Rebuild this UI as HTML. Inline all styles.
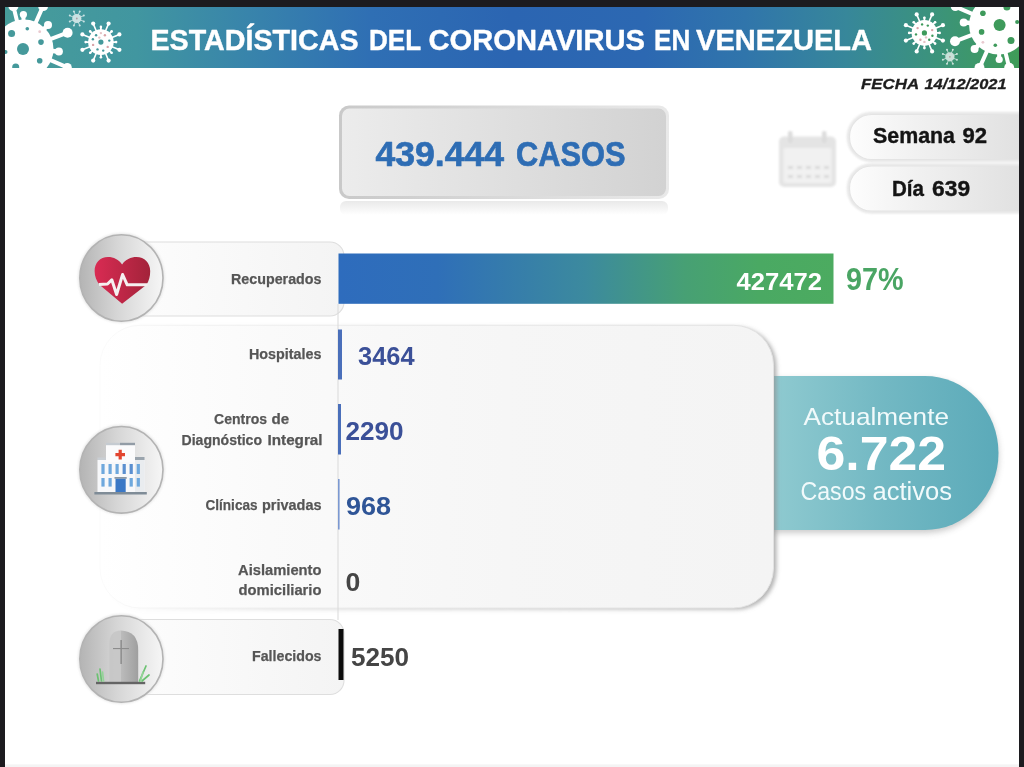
<!DOCTYPE html>
<html lang="es">
<head>
<meta charset="utf-8">
<title>Estadísticas del Coronavirus en Venezuela</title>
<style>
  html, body { margin: 0; padding: 0; background: #1c1b1f; }
  body { width: 1024px; height: 767px; overflow: hidden; position: relative; font-family: "Liberation Sans", sans-serif; }
  svg { position: absolute; left: 0; top: 0; display: block; }
  text { font-family: "Liberation Sans", sans-serif; }
  .b { font-weight: bold; }
</style>
</head>
<body>
<svg width="1024" height="767" viewBox="0 0 1024 767">
  <defs>
    <linearGradient id="gBanner" x1="0" y1="0" x2="1" y2="0">
      <stop offset="0" stop-color="#479c9a"/>
      <stop offset="0.13" stop-color="#4196a0"/>
      <stop offset="0.24" stop-color="#3884ab"/>
      <stop offset="0.36" stop-color="#2f6fb4"/>
      <stop offset="0.50" stop-color="#2b65b2"/>
      <stop offset="0.63" stop-color="#2c68b2"/>
      <stop offset="0.73" stop-color="#3075ab"/>
      <stop offset="0.83" stop-color="#37879a"/>
      <stop offset="0.91" stop-color="#3b927e"/>
      <stop offset="1" stop-color="#3f9c58"/>
    </linearGradient>
    <linearGradient id="gBar" x1="0" y1="0" x2="1" y2="0">
      <stop offset="0" stop-color="#2e6cbd"/>
      <stop offset="0.2" stop-color="#2f6fb8"/>
      <stop offset="0.5" stop-color="#3c8a9e"/>
      <stop offset="0.7" stop-color="#47a074"/>
      <stop offset="0.85" stop-color="#4aa963"/>
      <stop offset="1" stop-color="#4cab60"/>
    </linearGradient>
    <linearGradient id="gCasos" x1="0" y1="0" x2="1" y2="0">
      <stop offset="0" stop-color="#ececec"/>
      <stop offset="1" stop-color="#d2d2d2"/>
    </linearGradient>
    <linearGradient id="gPillR" x1="0" y1="0" x2="1" y2="0">
      <stop offset="0" stop-color="#fdfdfd"/>
      <stop offset="0.3" stop-color="#f1f1f1"/>
      <stop offset="1" stop-color="#d9d9d9"/>
    </linearGradient>
    <linearGradient id="gCircle" x1="0" y1="0" x2="1" y2="0">
      <stop offset="0" stop-color="#b4b4b4"/>
      <stop offset="0.45" stop-color="#d6d6d6"/>
      <stop offset="1" stop-color="#f6f6f6"/>
    </linearGradient>
    <linearGradient id="gPanel" x1="0" y1="0" x2="1" y2="0">
      <stop offset="0" stop-color="#ffffff"/>
      <stop offset="0.25" stop-color="#fafafa"/>
      <stop offset="0.6" stop-color="#f6f6f6"/>
      <stop offset="1" stop-color="#f4f4f4"/>
    </linearGradient>
    <linearGradient id="gTeal" x1="0" y1="0" x2="1" y2="0">
      <stop offset="0" stop-color="#8fcad0"/>
      <stop offset="0.5" stop-color="#72b8c3"/>
      <stop offset="1" stop-color="#5baab9"/>
    </linearGradient>
    <linearGradient id="gHeart" x1="0" y1="0" x2="1" y2="0">
      <stop offset="0" stop-color="#d92b53"/>
      <stop offset="1" stop-color="#a3233a"/>
    </linearGradient>
    <linearGradient id="gCasosB" x1="0" y1="0" x2="1" y2="0">
      <stop offset="0" stop-color="#c9c9c9"/>
      <stop offset="1" stop-color="#e9e9e9"/>
    </linearGradient>
    <linearGradient id="gRefl" x1="0" y1="0" x2="0" y2="1">
      <stop offset="0" stop-color="#e9e9e9"/>
      <stop offset="1" stop-color="#ffffff"/>
    </linearGradient>
    <linearGradient id="gShadow" x1="0" y1="0" x2="1" y2="0">
      <stop offset="0" stop-color="#9a9a9a" stop-opacity="0"/>
      <stop offset="0.25" stop-color="#9a9a9a" stop-opacity="0.3"/>
      <stop offset="1" stop-color="#909090" stop-opacity="0.7"/>
    </linearGradient>
    <linearGradient id="gPanelStroke" x1="0" y1="0" x2="1" y2="0">
      <stop offset="0" stop-color="#fbfbfb"/>
      <stop offset="0.1" stop-color="#f3f3f3"/>
      <stop offset="0.4" stop-color="#ebebeb"/>
      <stop offset="1" stop-color="#e2e2e2"/>
    </linearGradient>
    <linearGradient id="gLabel" x1="0" y1="0" x2="1" y2="0">
      <stop offset="0" stop-color="#fdfdfd"/>
      <stop offset="1" stop-color="#f4f4f4"/>
    </linearGradient>
    <linearGradient id="gTomb" x1="0" y1="0" x2="1" y2="0">
      <stop offset="0" stop-color="#bcbcbc"/>
      <stop offset="1" stop-color="#9f9f9f"/>
    </linearGradient>
    <filter id="blur1" x="-20%" y="-20%" width="140%" height="140%"><feGaussianBlur stdDeviation="1"/></filter>
    <filter id="blur2" x="-20%" y="-20%" width="140%" height="140%"><feGaussianBlur stdDeviation="2.3"/></filter>
    <filter id="blur3" x="-20%" y="-20%" width="140%" height="140%"><feGaussianBlur stdDeviation="3"/></filter>
    <clipPath id="clipBanner"><rect x="5" y="7" width="1014" height="61"/></clipPath>
    <clipPath id="clipPage"><rect x="5" y="7" width="1014" height="760"/></clipPath>
  </defs>

  <!-- page -->
  <rect x="5" y="7" width="1014" height="760" fill="#ffffff"/>
  <rect x="5" y="764.400" width="1014" height="2.600" fill="#f4f4f4"/>

  <!-- banner -->
  <rect x="5" y="7" width="1014" height="61" fill="url(#gBanner)"/>

  <!-- viruses -->
  <g clip-path="url(#clipBanner)">
    <g><circle cx="24" cy="49" r="29.5" fill="#fff"/><line x1="23.5" y1="21.5" x2="23.4" y2="14.5" stroke="#fff" stroke-width="4" stroke-linecap="round"/><circle cx="23.4" cy="14.5" r="3.6" fill="#fff"/><line x1="35.2" y1="23.9" x2="43.1" y2="6.1" stroke="#fff" stroke-width="4" stroke-linecap="round"/><circle cx="43.1" cy="6.1" r="5" fill="#fff"/><line x1="17.3" y1="22.3" x2="13.4" y2="6.3" stroke="#fff" stroke-width="4" stroke-linecap="round"/><circle cx="13.4" cy="6.3" r="5" fill="#fff"/><line x1="43.4" y1="29.6" x2="48.0" y2="25.0" stroke="#fff" stroke-width="4.5" stroke-linecap="round"/><circle cx="48.0" cy="25.0" r="4" fill="#fff"/><line x1="49.8" y1="39.4" x2="67.6" y2="32.7" stroke="#fff" stroke-width="4" stroke-linecap="round"/><circle cx="67.6" cy="32.7" r="5" fill="#fff"/><line x1="51.4" y1="50.9" x2="58.9" y2="51.4" stroke="#fff" stroke-width="4.5" stroke-linecap="round"/><circle cx="58.9" cy="51.4" r="4" fill="#fff"/><line x1="49.3" y1="59.7" x2="67.3" y2="67.4" stroke="#fff" stroke-width="4" stroke-linecap="round"/><circle cx="67.3" cy="67.4" r="4.5" fill="#fff"/><line x1="2.9" y1="31.3" x2="-10.5" y2="20.1" stroke="#fff" stroke-width="4" stroke-linecap="round"/><circle cx="-10.5" cy="20.1" r="5" fill="#fff"/><line x1="-1.8" y1="58.4" x2="-13.6" y2="62.7" stroke="#fff" stroke-width="4" stroke-linecap="round"/><circle cx="-13.6" cy="62.7" r="4" fill="#fff"/><circle cx="11.6" cy="33.5" r="3.5" fill="#45999b"/><circle cx="27.3" cy="28.7" r="1.8" fill="#45999b"/><circle cx="41" cy="42.1" r="2.8" fill="#45999b"/><circle cx="23" cy="49" r="6" fill="#45999b"/><circle cx="39.7" cy="60.8" r="2.8" fill="#45999b"/><circle cx="15.7" cy="67" r="3.5" fill="#45999b"/><circle cx="5.5" cy="52" r="2" fill="#45999b"/><circle cx="39.7" cy="31.7" r="1.4" fill="#e9c9cf"/></g>
    <g><circle cx="100.9" cy="42.1" r="12.8" fill="#fff"/><line x1="112.0" y1="46.7" x2="119.4" y2="49.8" stroke="#fff" stroke-width="1.6" stroke-linecap="round"/><circle cx="119.4" cy="49.8" r="2.1" fill="#fff"/><line x1="112.9" y1="42.1" x2="116.1" y2="42.1" stroke="#fff" stroke-width="1.8" stroke-linecap="round"/><circle cx="116.1" cy="42.1" r="1.3" fill="#fff"/><line x1="105.5" y1="53.2" x2="108.6" y2="60.6" stroke="#fff" stroke-width="1.6" stroke-linecap="round"/><circle cx="108.6" cy="60.6" r="2.1" fill="#fff"/><line x1="109.4" y1="50.6" x2="111.6" y2="52.8" stroke="#fff" stroke-width="1.8" stroke-linecap="round"/><circle cx="111.6" cy="52.8" r="1.3" fill="#fff"/><line x1="96.3" y1="53.2" x2="93.2" y2="60.6" stroke="#fff" stroke-width="1.6" stroke-linecap="round"/><circle cx="93.2" cy="60.6" r="2.1" fill="#fff"/><line x1="100.9" y1="54.1" x2="100.9" y2="57.3" stroke="#fff" stroke-width="1.8" stroke-linecap="round"/><circle cx="100.9" cy="57.3" r="1.3" fill="#fff"/><line x1="89.8" y1="46.7" x2="82.4" y2="49.8" stroke="#fff" stroke-width="1.6" stroke-linecap="round"/><circle cx="82.4" cy="49.8" r="2.1" fill="#fff"/><line x1="92.4" y1="50.6" x2="90.2" y2="52.8" stroke="#fff" stroke-width="1.8" stroke-linecap="round"/><circle cx="90.2" cy="52.8" r="1.3" fill="#fff"/><line x1="89.8" y1="37.5" x2="82.4" y2="34.4" stroke="#fff" stroke-width="1.6" stroke-linecap="round"/><circle cx="82.4" cy="34.4" r="2.1" fill="#fff"/><line x1="88.9" y1="42.1" x2="85.7" y2="42.1" stroke="#fff" stroke-width="1.8" stroke-linecap="round"/><circle cx="85.7" cy="42.1" r="1.3" fill="#fff"/><line x1="96.3" y1="31.0" x2="93.2" y2="23.6" stroke="#fff" stroke-width="1.6" stroke-linecap="round"/><circle cx="93.2" cy="23.6" r="2.1" fill="#fff"/><line x1="92.4" y1="33.6" x2="90.2" y2="31.4" stroke="#fff" stroke-width="1.8" stroke-linecap="round"/><circle cx="90.2" cy="31.4" r="1.3" fill="#fff"/><line x1="105.5" y1="31.0" x2="108.6" y2="23.6" stroke="#fff" stroke-width="1.6" stroke-linecap="round"/><circle cx="108.6" cy="23.6" r="2.1" fill="#fff"/><line x1="100.9" y1="30.1" x2="100.9" y2="26.9" stroke="#fff" stroke-width="1.8" stroke-linecap="round"/><circle cx="100.9" cy="26.9" r="1.3" fill="#fff"/><line x1="112.0" y1="37.5" x2="119.4" y2="34.4" stroke="#fff" stroke-width="1.6" stroke-linecap="round"/><circle cx="119.4" cy="34.4" r="2.1" fill="#fff"/><line x1="109.4" y1="33.6" x2="111.6" y2="31.4" stroke="#fff" stroke-width="1.8" stroke-linecap="round"/><circle cx="111.6" cy="31.4" r="1.3" fill="#fff"/><circle cx="100.9" cy="42.1" r="2.6" fill="#45999b"/><circle cx="96.1" cy="35.3" r="1.2" fill="#45999b"/><circle cx="104.9" cy="35.2" r="1.2" fill="#d9a3a8"/><circle cx="109.3" cy="40.6" r="1.2" fill="#45999b"/><circle cx="107.7" cy="46.9" r="1.2" fill="#d9a3a8"/><circle cx="103.2" cy="50.6" r="1.2" fill="#45999b"/><circle cx="97.5" cy="49.4" r="1.2" fill="#45999b"/><circle cx="93.1" cy="44.9" r="1.2" fill="#d9a3a8"/><circle cx="92.9" cy="39.2" r="1.2" fill="#45999b"/><circle cx="100.9" cy="33.1" r="1.2" fill="#e5c3c6"/><circle cx="99.3" cy="37.6" r="1.2" fill="#e5c3c6"/></g>
    <g opacity="0.72"><circle cx="76.8" cy="18.5" r="4.6" fill="#fff"/><line x1="80.5" y1="20.0" x2="83.8" y2="21.4" stroke="#fff" stroke-width="0.9" stroke-linecap="round"/><circle cx="83.8" cy="21.4" r="1.0" fill="#fff"/><line x1="78.3" y1="22.2" x2="79.7" y2="25.5" stroke="#fff" stroke-width="0.9" stroke-linecap="round"/><circle cx="79.7" cy="25.5" r="1.0" fill="#fff"/><line x1="75.3" y1="22.2" x2="73.9" y2="25.5" stroke="#fff" stroke-width="0.9" stroke-linecap="round"/><circle cx="73.9" cy="25.5" r="1.0" fill="#fff"/><line x1="73.1" y1="20.0" x2="69.8" y2="21.4" stroke="#fff" stroke-width="0.9" stroke-linecap="round"/><circle cx="69.8" cy="21.4" r="1.0" fill="#fff"/><line x1="73.1" y1="17.0" x2="69.8" y2="15.6" stroke="#fff" stroke-width="0.9" stroke-linecap="round"/><circle cx="69.8" cy="15.6" r="1.0" fill="#fff"/><line x1="75.3" y1="14.8" x2="73.9" y2="11.5" stroke="#fff" stroke-width="0.9" stroke-linecap="round"/><circle cx="73.9" cy="11.5" r="1.0" fill="#fff"/><line x1="78.3" y1="14.8" x2="79.7" y2="11.5" stroke="#fff" stroke-width="0.9" stroke-linecap="round"/><circle cx="79.7" cy="11.5" r="1.0" fill="#fff"/><line x1="80.5" y1="17.0" x2="83.8" y2="15.6" stroke="#fff" stroke-width="0.9" stroke-linecap="round"/><circle cx="83.8" cy="15.6" r="1.0" fill="#fff"/><circle cx="76.8" cy="18.5" r="0.9" fill="#d9a3a8"/></g>
    <g transform="rotate(180 512 37.5) translate(1.4,1)"><circle cx="24" cy="49" r="29.5" fill="#fff"/><line x1="23.5" y1="21.5" x2="23.4" y2="14.5" stroke="#fff" stroke-width="4" stroke-linecap="round"/><circle cx="23.4" cy="14.5" r="3.6" fill="#fff"/><line x1="35.2" y1="23.9" x2="43.1" y2="6.1" stroke="#fff" stroke-width="4" stroke-linecap="round"/><circle cx="43.1" cy="6.1" r="5" fill="#fff"/><line x1="17.3" y1="22.3" x2="13.4" y2="6.3" stroke="#fff" stroke-width="4" stroke-linecap="round"/><circle cx="13.4" cy="6.3" r="5" fill="#fff"/><line x1="43.4" y1="29.6" x2="48.0" y2="25.0" stroke="#fff" stroke-width="4.5" stroke-linecap="round"/><circle cx="48.0" cy="25.0" r="4" fill="#fff"/><line x1="49.8" y1="39.4" x2="67.6" y2="32.7" stroke="#fff" stroke-width="4" stroke-linecap="round"/><circle cx="67.6" cy="32.7" r="5" fill="#fff"/><line x1="51.4" y1="50.9" x2="58.9" y2="51.4" stroke="#fff" stroke-width="4.5" stroke-linecap="round"/><circle cx="58.9" cy="51.4" r="4" fill="#fff"/><line x1="49.3" y1="59.7" x2="67.3" y2="67.4" stroke="#fff" stroke-width="4" stroke-linecap="round"/><circle cx="67.3" cy="67.4" r="4.5" fill="#fff"/><line x1="2.9" y1="31.3" x2="-10.5" y2="20.1" stroke="#fff" stroke-width="4" stroke-linecap="round"/><circle cx="-10.5" cy="20.1" r="5" fill="#fff"/><line x1="-1.8" y1="58.4" x2="-13.6" y2="62.7" stroke="#fff" stroke-width="4" stroke-linecap="round"/><circle cx="-13.6" cy="62.7" r="4" fill="#fff"/><circle cx="11.6" cy="33.5" r="3.5" fill="#3e9a5b"/><circle cx="27.3" cy="28.7" r="1.8" fill="#3e9a5b"/><circle cx="41" cy="42.1" r="2.8" fill="#3e9a5b"/><circle cx="23" cy="49" r="6" fill="#3e9a5b"/><circle cx="39.7" cy="60.8" r="2.8" fill="#3e9a5b"/><circle cx="15.7" cy="67" r="3.5" fill="#3e9a5b"/><circle cx="5.5" cy="52" r="2" fill="#3e9a5b"/><circle cx="39.7" cy="31.7" r="1.4" fill="#e9c9cf"/></g>
    <g transform="rotate(180 512 37.5) translate(-1.3,0)"><circle cx="100.9" cy="42.1" r="12.8" fill="#fff"/><line x1="112.0" y1="46.7" x2="119.4" y2="49.8" stroke="#fff" stroke-width="1.6" stroke-linecap="round"/><circle cx="119.4" cy="49.8" r="2.1" fill="#fff"/><line x1="112.9" y1="42.1" x2="116.1" y2="42.1" stroke="#fff" stroke-width="1.8" stroke-linecap="round"/><circle cx="116.1" cy="42.1" r="1.3" fill="#fff"/><line x1="105.5" y1="53.2" x2="108.6" y2="60.6" stroke="#fff" stroke-width="1.6" stroke-linecap="round"/><circle cx="108.6" cy="60.6" r="2.1" fill="#fff"/><line x1="109.4" y1="50.6" x2="111.6" y2="52.8" stroke="#fff" stroke-width="1.8" stroke-linecap="round"/><circle cx="111.6" cy="52.8" r="1.3" fill="#fff"/><line x1="96.3" y1="53.2" x2="93.2" y2="60.6" stroke="#fff" stroke-width="1.6" stroke-linecap="round"/><circle cx="93.2" cy="60.6" r="2.1" fill="#fff"/><line x1="100.9" y1="54.1" x2="100.9" y2="57.3" stroke="#fff" stroke-width="1.8" stroke-linecap="round"/><circle cx="100.9" cy="57.3" r="1.3" fill="#fff"/><line x1="89.8" y1="46.7" x2="82.4" y2="49.8" stroke="#fff" stroke-width="1.6" stroke-linecap="round"/><circle cx="82.4" cy="49.8" r="2.1" fill="#fff"/><line x1="92.4" y1="50.6" x2="90.2" y2="52.8" stroke="#fff" stroke-width="1.8" stroke-linecap="round"/><circle cx="90.2" cy="52.8" r="1.3" fill="#fff"/><line x1="89.8" y1="37.5" x2="82.4" y2="34.4" stroke="#fff" stroke-width="1.6" stroke-linecap="round"/><circle cx="82.4" cy="34.4" r="2.1" fill="#fff"/><line x1="88.9" y1="42.1" x2="85.7" y2="42.1" stroke="#fff" stroke-width="1.8" stroke-linecap="round"/><circle cx="85.7" cy="42.1" r="1.3" fill="#fff"/><line x1="96.3" y1="31.0" x2="93.2" y2="23.6" stroke="#fff" stroke-width="1.6" stroke-linecap="round"/><circle cx="93.2" cy="23.6" r="2.1" fill="#fff"/><line x1="92.4" y1="33.6" x2="90.2" y2="31.4" stroke="#fff" stroke-width="1.8" stroke-linecap="round"/><circle cx="90.2" cy="31.4" r="1.3" fill="#fff"/><line x1="105.5" y1="31.0" x2="108.6" y2="23.6" stroke="#fff" stroke-width="1.6" stroke-linecap="round"/><circle cx="108.6" cy="23.6" r="2.1" fill="#fff"/><line x1="100.9" y1="30.1" x2="100.9" y2="26.9" stroke="#fff" stroke-width="1.8" stroke-linecap="round"/><circle cx="100.9" cy="26.9" r="1.3" fill="#fff"/><line x1="112.0" y1="37.5" x2="119.4" y2="34.4" stroke="#fff" stroke-width="1.6" stroke-linecap="round"/><circle cx="119.4" cy="34.4" r="2.1" fill="#fff"/><line x1="109.4" y1="33.6" x2="111.6" y2="31.4" stroke="#fff" stroke-width="1.8" stroke-linecap="round"/><circle cx="111.6" cy="31.4" r="1.3" fill="#fff"/><circle cx="100.9" cy="42.1" r="2.6" fill="#3e9a5b"/><circle cx="96.1" cy="35.3" r="1.2" fill="#3e9a5b"/><circle cx="104.9" cy="35.2" r="1.2" fill="#d9a3a8"/><circle cx="109.3" cy="40.6" r="1.2" fill="#3e9a5b"/><circle cx="107.7" cy="46.9" r="1.2" fill="#d9a3a8"/><circle cx="103.2" cy="50.6" r="1.2" fill="#3e9a5b"/><circle cx="97.5" cy="49.4" r="1.2" fill="#3e9a5b"/><circle cx="93.1" cy="44.9" r="1.2" fill="#d9a3a8"/><circle cx="92.9" cy="39.2" r="1.2" fill="#3e9a5b"/><circle cx="100.9" cy="33.1" r="1.2" fill="#e5c3c6"/><circle cx="99.3" cy="37.6" r="1.2" fill="#e5c3c6"/></g>
    <g transform="rotate(180 512 37.5) translate(-2.7,-0.3)"><g opacity="0.72"><circle cx="76.8" cy="18.5" r="4.6" fill="#fff"/><line x1="80.5" y1="20.0" x2="83.8" y2="21.4" stroke="#fff" stroke-width="0.9" stroke-linecap="round"/><circle cx="83.8" cy="21.4" r="1.0" fill="#fff"/><line x1="78.3" y1="22.2" x2="79.7" y2="25.5" stroke="#fff" stroke-width="0.9" stroke-linecap="round"/><circle cx="79.7" cy="25.5" r="1.0" fill="#fff"/><line x1="75.3" y1="22.2" x2="73.9" y2="25.5" stroke="#fff" stroke-width="0.9" stroke-linecap="round"/><circle cx="73.9" cy="25.5" r="1.0" fill="#fff"/><line x1="73.1" y1="20.0" x2="69.8" y2="21.4" stroke="#fff" stroke-width="0.9" stroke-linecap="round"/><circle cx="69.8" cy="21.4" r="1.0" fill="#fff"/><line x1="73.1" y1="17.0" x2="69.8" y2="15.6" stroke="#fff" stroke-width="0.9" stroke-linecap="round"/><circle cx="69.8" cy="15.6" r="1.0" fill="#fff"/><line x1="75.3" y1="14.8" x2="73.9" y2="11.5" stroke="#fff" stroke-width="0.9" stroke-linecap="round"/><circle cx="73.9" cy="11.5" r="1.0" fill="#fff"/><line x1="78.3" y1="14.8" x2="79.7" y2="11.5" stroke="#fff" stroke-width="0.9" stroke-linecap="round"/><circle cx="79.7" cy="11.5" r="1.0" fill="#fff"/><line x1="80.5" y1="17.0" x2="83.8" y2="15.6" stroke="#fff" stroke-width="0.9" stroke-linecap="round"/><circle cx="83.8" cy="15.6" r="1.0" fill="#fff"/><circle cx="76.8" cy="18.5" r="0.9" fill="#d9a3a8"/></g></g>
  </g>
  <!-- /viruses -->

  <!-- casos box -->
  <rect x="340" y="201" width="328" height="14" rx="6" fill="url(#gRefl)"/>
  <rect x="339" y="105.5" width="330" height="93.5" rx="10" fill="url(#gCasosB)"/>
  <rect x="342" y="108.5" width="324" height="87.5" rx="7.5" fill="url(#gCasos)"/>

  <!-- calendar icon -->
  <g filter="url(#blur1)" opacity="0.95">
    <rect x="779" y="136.500" width="57" height="50.500" rx="5" fill="#e3e3e3"/>
    <rect x="783.500" y="148" width="48" height="35" rx="2" fill="#f1f1f1"/>
    <rect x="788" y="131" width="4.5" height="12" rx="2" fill="#dadada"/>
    <rect x="822" y="131" width="4.5" height="12" rx="2" fill="#dadada"/>
    <g fill="#d9d9d9">
      <rect x="788" y="166" width="5" height="3"/><rect x="797" y="166" width="5" height="3"/><rect x="806" y="166" width="5" height="3"/><rect x="815" y="166" width="5" height="3"/><rect x="824" y="166" width="5" height="3"/>
      <rect x="788" y="175" width="5" height="3"/><rect x="797" y="175" width="5" height="3"/><rect x="806" y="175" width="5" height="3"/><rect x="815" y="175" width="5" height="3"/><rect x="824" y="175" width="5" height="3"/>
    </g>
  </g>

  <!-- semana / dia pills -->
  <g clip-path="url(#clipPage)">
    <rect x="848.5" y="113.5" width="220" height="47" rx="23" fill="none" stroke="#dedede" stroke-width="3" filter="url(#blur1)" opacity="0.8"/>
    <rect x="848.5" y="165" width="220" height="47" rx="23" fill="none" stroke="#dedede" stroke-width="3" filter="url(#blur1)" opacity="0.8"/>
    <rect x="849.5" y="114.5" width="220" height="45" rx="22" fill="url(#gPillR)" stroke="#e4e4e4" stroke-width="1.2"/>
    <rect x="849.5" y="166" width="220" height="45" rx="22" fill="url(#gPillR)" stroke="#e4e4e4" stroke-width="1.2"/>
  </g>

  <!-- teal callout -->
  <path d="M772 376 H925 A73.5 77 0 0 1 925 530 H772 Z" fill="#8a8a8a" filter="url(#blur3)" opacity="0.45" transform="translate(0,3)"/>
  <path d="M772 376 H925 A73.5 77 0 0 1 925 530 H772 Z" fill="url(#gTeal)"/>

  <!-- hospital panel -->
  <path d="M140 325.3 H733.5 A40 40 0 0 1 773.5 365.3 V568 A40 40 0 0 1 733.5 608 H140 A40 40 0 0 1 100 568 V365.3 A40 40 0 0 1 140 325.3 Z" fill="url(#gShadow)" filter="url(#blur2)" transform="translate(3,1.6)"/>
  <path d="M140 325.3 H733.5 A40 40 0 0 1 773.5 365.3 V568 A40 40 0 0 1 733.5 608 H140 A40 40 0 0 1 100 568 V365.3 A40 40 0 0 1 140 325.3 Z" fill="url(#gPanel)" stroke="url(#gPanelStroke)" stroke-width="1"/>

  <!-- label pills -->
  <path d="M121 242 H330 A14 14 0 0 1 344 256 V302 A14 14 0 0 1 330 316 H121 Z" fill="url(#gLabel)" stroke="#dedede" stroke-width="1.1"/>
  <path d="M121 619.5 H330 A14 14 0 0 1 344 633.5 V680.5 A14 14 0 0 1 330 694.5 H121 Z" fill="url(#gLabel)" stroke="#dedede" stroke-width="1.1"/>

  <!-- axis line -->
  <rect x="337.5" y="304" width="1" height="316" fill="#dadada"/>

  <!-- bars -->
  <rect x="338.5" y="253.5" width="495" height="50.3" fill="url(#gBar)"/>
  <rect x="338" y="329.5" width="4" height="50" fill="#4a6fba"/>
  <rect x="338" y="404" width="3" height="50.5" fill="#4a6fba"/>
  <rect x="338" y="479" width="1.6" height="50.5" fill="#7b98d1"/>
  <rect x="338.5" y="629" width="5" height="51" fill="#0c0c0c"/>


  <!-- icon circles -->
  <ellipse cx="121.4" cy="278" rx="43.5" ry="45" fill="#d9d9d9" filter="url(#blur1)" opacity="0.6"/>
  <ellipse cx="121.4" cy="278" rx="41.6" ry="43.3" fill="url(#gCircle)" stroke="#b3b3b3" stroke-width="1.6"/>
  <!-- heart -->
  <path d="M122.1 264.5 C119 259.5 113.5 257 108 257 C100 257 94.6 263 94.6 271 C94.6 276.5 96.5 281 99.8 285 L122.1 303.800 L146.200 285 C149 281 150.200 276.500 150.200 271 C150.200 263 144.500 257 136.500 257 C131 257 125.200 259.500 122.100 264.500 Z" fill="url(#gHeart)"/>
  <path d="M99 284.600 L107.500 284 L111.800 279.800 L116.600 294.500 L122.600 274.500 L127.200 284.800 L147.500 284.800" fill="none" stroke="#f5f0f0" stroke-width="3" stroke-linejoin="round"/>
  <ellipse cx="121.4" cy="469.8" rx="43.5" ry="45" fill="#d9d9d9" filter="url(#blur1)" opacity="0.6"/>
  <ellipse cx="121.4" cy="469.8" rx="41.6" ry="43.3" fill="url(#gCircle)" stroke="#b3b3b3" stroke-width="1.6"/>
  <!-- hospital -->
  <g>
    <rect x="94.4" y="492" width="52.4" height="2.500" fill="#7f8c97"/>
    <rect x="97.5" y="460" width="47" height="32" fill="#f7f8fa"/>
    <rect x="106" y="445" width="29" height="17" fill="#fbfbfc"/>
    <rect x="106" y="442.800" width="14" height="2.400" fill="#c5cbd1"/><rect x="120" y="442.800" width="15" height="2.400" fill="#929ca6"/>
    <rect x="97.5" y="457.500" width="8.5" height="2.500" fill="#c9ced3"/>
    <rect x="135" y="457" width="9.5" height="3" fill="#9aa4ad"/>
    <rect x="135" y="460" width="9.5" height="32" fill="#e9ecef"/>
    <path d="M118.600 449.800 h3.200 v3.200 h3.200 v3.200 h-3.200 v3.200 h-3.200 v-3.200 h-3.200 v-3.200 h3.200 z" fill="#e2452f"/>
    <g fill="#6ea8dd">
      <rect x="101.400" y="464" width="3.200" height="10"/><rect x="108.500" y="464" width="3.200" height="10"/><rect x="115.500" y="464" width="3.200" height="10"/>
      <rect x="122.600" y="464" width="3.200" height="10" fill="#5b8fd0"/><rect x="129.600" y="464" width="3.200" height="10" fill="#5b8fd0"/><rect x="136.700" y="464" width="3.200" height="10"/>
      <rect x="101.400" y="478" width="3.200" height="8.600"/><rect x="108.500" y="478" width="3.200" height="8.600"/>
      <rect x="129.600" y="478" width="3.200" height="8.600"/><rect x="136.700" y="478" width="3.200" height="8.600"/>
    </g>
    <rect x="114.500" y="477" width="12.200" height="1.800" fill="#8c98a3"/>
    <rect x="115.500" y="478.800" width="10.200" height="13.200" fill="#3b78c6"/>
  </g>
  <ellipse cx="121.4" cy="659" rx="43.5" ry="45" fill="#d9d9d9" filter="url(#blur1)" opacity="0.6"/>
  <ellipse cx="121.4" cy="659" rx="41.6" ry="43.3" fill="url(#gCircle)" stroke="#b3b3b3" stroke-width="1.6"/>
  <!-- tomb -->
  <g>
    <path d="M109.500 682 V643 Q109.500 631 120.700 630.500 V682 Z" fill="#c6c6c6" opacity="0.85"/>
    <path d="M120.700 630.500 Q138.200 631 138.200 650 V682 H120.700 Z" fill="url(#gTomb)"/>
    <rect x="120.500" y="640" width="1.200" height="24" fill="#7f7f7f"/>
    <rect x="113" y="648" width="16" height="1.100" fill="#8c8c8c"/>
    <rect x="96" y="681.800" width="49.200" height="2.400" fill="#646464"/>
    <g stroke="#6cc272" stroke-width="1.700" stroke-linecap="round" fill="none">
      <path d="M101.500 681 L100 669"/><path d="M98.500 681 L97.200 674"/><path d="M103.500 681 L102.500 672" stroke="#93d497"/>
      <path d="M139.500 681 L146 666"/><path d="M142 681 L149 675"/><path d="M140.500 681 L143 672" stroke="#93d497"/>
    </g>
  </g>


  <!-- TEXT-BEGIN -->
<!-- text -->
  <g id="txt" opacity="0.999">
    <text x="150.50" y="49.7" font-size="28.8" font-weight="bold" fill="#ffffff" stroke="#ffffff" stroke-width="0.4" stroke-linejoin="round" textLength="208.05" lengthAdjust="spacingAndGlyphs">ESTADÍSTICAS</text>
    <text x="369.00" y="49.7" font-size="28.8" font-weight="bold" fill="#ffffff" stroke="#ffffff" stroke-width="0.4" stroke-linejoin="round" textLength="52.09" lengthAdjust="spacingAndGlyphs">DEL</text>
    <text x="428.50" y="49.7" font-size="28.8" font-weight="bold" fill="#ffffff" stroke="#ffffff" stroke-width="0.4" stroke-linejoin="round" textLength="216.53" lengthAdjust="spacingAndGlyphs">CORONAVIRUS</text>
    <text x="654.00" y="49.7" font-size="28.8" font-weight="bold" fill="#ffffff" stroke="#ffffff" stroke-width="0.4" stroke-linejoin="round" textLength="36.21" lengthAdjust="spacingAndGlyphs">EN</text>
    <text x="696.00" y="49.7" font-size="28.8" font-weight="bold" fill="#ffffff" stroke="#ffffff" stroke-width="0.4" stroke-linejoin="round" textLength="176.02" lengthAdjust="spacingAndGlyphs">VENEZUELA</text>
    <text x="375.50" y="165.8" font-size="34.8" font-weight="bold" fill="#2e6db4" stroke="#2e6db4" stroke-width="0.7" stroke-linejoin="round" textLength="128.50" lengthAdjust="spacingAndGlyphs">439.444</text>
    <text x="516.00" y="165.8" font-size="34.8" font-weight="bold" fill="#2e6db4" stroke="#2e6db4" stroke-width="0.7" stroke-linejoin="round" textLength="109.53" lengthAdjust="spacingAndGlyphs">CASOS</text>
    <text x="861.00" y="89.2" font-size="15.2" font-weight="bold" font-style="italic" fill="#1e1e1e" stroke="#1e1e1e" stroke-width="0.3" stroke-linejoin="round" textLength="58.06" lengthAdjust="spacingAndGlyphs">FECHA</text>
    <text x="924.50" y="89.2" font-size="15.2" font-weight="bold" font-style="italic" fill="#1e1e1e" stroke="#1e1e1e" stroke-width="0.3" stroke-linejoin="round" textLength="82.02" lengthAdjust="spacingAndGlyphs">14/12/2021</text>
    <text x="873.00" y="142.7" font-size="22.5" font-weight="bold" fill="#141414" stroke="#141414" stroke-width="0.4" stroke-linejoin="round" textLength="82.00" lengthAdjust="spacingAndGlyphs">Semana</text>
    <text x="962.50" y="142.7" font-size="22.5" font-weight="bold" fill="#141414" stroke="#141414" stroke-width="0.4" stroke-linejoin="round" textLength="24.59" lengthAdjust="spacingAndGlyphs">92</text>
    <text x="892.00" y="196.3" font-size="22.5" font-weight="bold" fill="#141414" stroke="#141414" stroke-width="0.4" stroke-linejoin="round" textLength="32.01" lengthAdjust="spacingAndGlyphs">Día</text>
    <text x="932.00" y="196.3" font-size="22.5" font-weight="bold" fill="#141414" stroke="#141414" stroke-width="0.4" stroke-linejoin="round" textLength="38.07" lengthAdjust="spacingAndGlyphs">639</text>
    <text x="231.00" y="284" font-size="15.2" font-weight="bold" fill="#565656" stroke="#565656" stroke-width="0.25" stroke-linejoin="round" textLength="90.51" lengthAdjust="spacingAndGlyphs">Recuperados</text>
    <text x="736.50" y="289.7" font-size="24.8" font-weight="bold" fill="#ffffff" textLength="85.52" lengthAdjust="spacingAndGlyphs">427472</text>
    <text x="846.00" y="289.7" font-size="30.8" font-weight="bold" fill="#4aa564" textLength="57.62" lengthAdjust="spacingAndGlyphs">97%</text>
    <text x="249.00" y="358.9" font-size="15.2" font-weight="bold" fill="#565656" stroke="#565656" stroke-width="0.25" stroke-linejoin="round" textLength="72.54" lengthAdjust="spacingAndGlyphs">Hospitales</text>
    <text x="358.00" y="365.4" font-size="25.5" font-weight="bold" fill="#3b5098" textLength="56.52" lengthAdjust="spacingAndGlyphs">3464</text>
    <text x="214.00" y="424.4" font-size="15.2" font-weight="bold" fill="#565656" stroke="#565656" stroke-width="0.25" stroke-linejoin="round" textLength="53.03" lengthAdjust="spacingAndGlyphs">Centros</text>
    <text x="271.50" y="424.4" font-size="15.2" font-weight="bold" fill="#565656" stroke="#565656" stroke-width="0.25" stroke-linejoin="round" textLength="17.63" lengthAdjust="spacingAndGlyphs">de</text>
    <text x="181.50" y="444.7" font-size="15.2" font-weight="bold" fill="#565656" stroke="#565656" stroke-width="0.25" stroke-linejoin="round" textLength="80.53" lengthAdjust="spacingAndGlyphs">Diagnóstico</text>
    <text x="267.50" y="444.7" font-size="15.2" font-weight="bold" fill="#565656" stroke="#565656" stroke-width="0.25" stroke-linejoin="round" textLength="55.07" lengthAdjust="spacingAndGlyphs">Integral</text>
    <text x="345.50" y="440.1" font-size="25.5" font-weight="bold" fill="#3b5098" textLength="58.14" lengthAdjust="spacingAndGlyphs">2290</text>
    <text x="205.50" y="509.6" font-size="15.2" font-weight="bold" fill="#565656" stroke="#565656" stroke-width="0.25" stroke-linejoin="round" textLength="52.03" lengthAdjust="spacingAndGlyphs">Clínicas</text>
    <text x="262.00" y="509.6" font-size="15.2" font-weight="bold" fill="#565656" stroke="#565656" stroke-width="0.25" stroke-linejoin="round" textLength="59.53" lengthAdjust="spacingAndGlyphs">privadas</text>
    <text x="346.00" y="514.8" font-size="25.5" font-weight="bold" fill="#2f5597" textLength="45.14" lengthAdjust="spacingAndGlyphs">968</text>
    <text x="238.00" y="574.9" font-size="15.2" font-weight="bold" fill="#565656" stroke="#565656" stroke-width="0.25" stroke-linejoin="round" textLength="83.51" lengthAdjust="spacingAndGlyphs">Aislamiento</text>
    <text x="238.50" y="595.2" font-size="15.2" font-weight="bold" fill="#565656" stroke="#565656" stroke-width="0.25" stroke-linejoin="round" textLength="83.02" lengthAdjust="spacingAndGlyphs">domiciliario</text>
    <text x="345.50" y="590.6" font-size="25.5" font-weight="bold" fill="#454545" textLength="14.81" lengthAdjust="spacingAndGlyphs">0</text>
    <text x="252.00" y="660.5" font-size="15.4" font-weight="bold" fill="#565656" stroke="#565656" stroke-width="0.25" stroke-linejoin="round" textLength="69.53" lengthAdjust="spacingAndGlyphs">Fallecidos</text>
    <text x="351.00" y="665.8" font-size="24.9" font-weight="bold" fill="#454545" textLength="58.08" lengthAdjust="spacingAndGlyphs">5250</text>
    <text x="803.50" y="424.8" font-size="24.6" font-weight="normal" fill="#f1fafb" textLength="145.51" lengthAdjust="spacingAndGlyphs">Actualmente</text>
    <text x="816.50" y="470.4" font-size="48.5" font-weight="bold" fill="#ffffff" textLength="129.66" lengthAdjust="spacingAndGlyphs">6.722</text>
    <text x="800.50" y="499.5" font-size="25" font-weight="normal" fill="#f1fafb" textLength="65.59" lengthAdjust="spacingAndGlyphs">Casos</text>
    <text x="872.50" y="499.5" font-size="25" font-weight="normal" fill="#f1fafb" textLength="79.57" lengthAdjust="spacingAndGlyphs">activos</text>
  </g>
  <!-- TEXT-END -->
</svg>
</body>
</html>
